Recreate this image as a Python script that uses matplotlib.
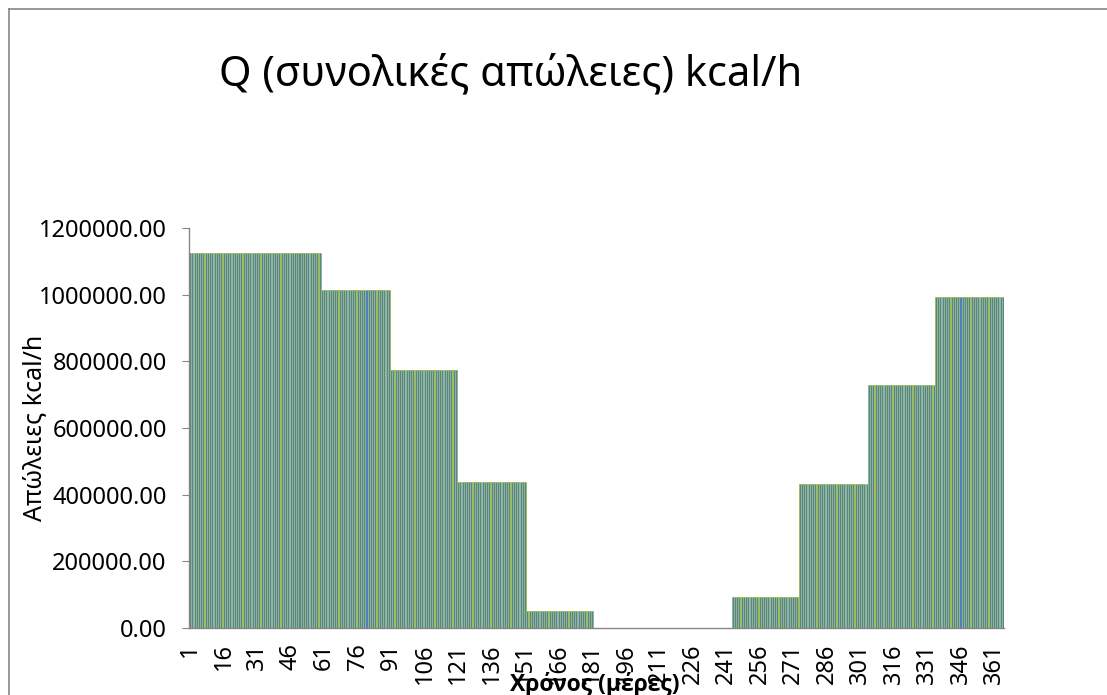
import numpy as np
import matplotlib
matplotlib.use("Agg")
import matplotlib.pyplot as plt
from matplotlib.lines import Line2D

plt.rcParams['font.family'] = ['Noto Sans', 'DejaVu Sans']

# monthly heat losses, repeated for every day of the month
month_days = [31, 28, 31, 30, 31, 30, 31, 31, 30, 31, 30, 31]
monthly_q = [1126000, 1126000, 1015000, 773000, 438000, 50000,
             0, 0, 94000, 431000, 729000, 992000]

days = np.arange(1, 366)
q_daily = np.repeat(monthly_q, month_days)
tick_days = list(range(1, 366, 15))

fig = plt.figure(figsize=(11.07, 6.95), dpi=100)
ax = fig.add_axes([0.1707, 0.0964, 0.7363, 0.5756])

lw = np.where(q_daily > 0, 0.65, 0.0)
ax.bar(days, q_daily, width=0.9, color='#4F81BD', edgecolor='#9BBB59',
       linewidth=lw, zorder=2)

ax.set_xlim(0.5, 365.5)
ax.set_ylim(0, 1200000)
ax.set_yticks(np.arange(0, 1200001, 200000))
ax.set_yticklabels([f"{v:.2f}" for v in np.arange(0, 1200001, 200000)])
ax.set_xticks(tick_days)
ax.set_xticklabels([str(d) for d in tick_days], rotation=90)

for s in ['top', 'right']:
    ax.spines[s].set_visible(False)
for s in ['left', 'bottom']:
    ax.spines[s].set_color('#868686')
    ax.spines[s].set_linewidth(1.0)
    ax.spines[s].set_zorder(3)
ax.tick_params(axis='y', length=5, color='#868686', labelsize=17, pad=11)
ax.tick_params(axis='x', length=0, labelsize=17, pad=11)

ax.set_ylabel("Απώλειες kcal/h", fontsize=18)
ax.yaxis.set_label_coords(-0.174, 0.5)
fig.text(0.537, 0.006, "Χρόνος (μέρες)", fontsize=16.5, fontweight='bold',
         family=['Open Sans', 'DejaVu Sans'], ha='center', va='baseline')

fig.text(0.461, 0.877, "Q (συνολικές απώλειες) kcal/h", fontsize=30,
         ha='center', va='baseline')

# chart frame
bx = 8.5 / 1107
by = 1 - 8.5 / 695
fig.add_artist(Line2D([bx, 1], [by, by], color='#868686', lw=1.2))
fig.add_artist(Line2D([bx, bx], [0, by], color='#868686', lw=1.2))

fig.savefig("out.png", dpi=100)
